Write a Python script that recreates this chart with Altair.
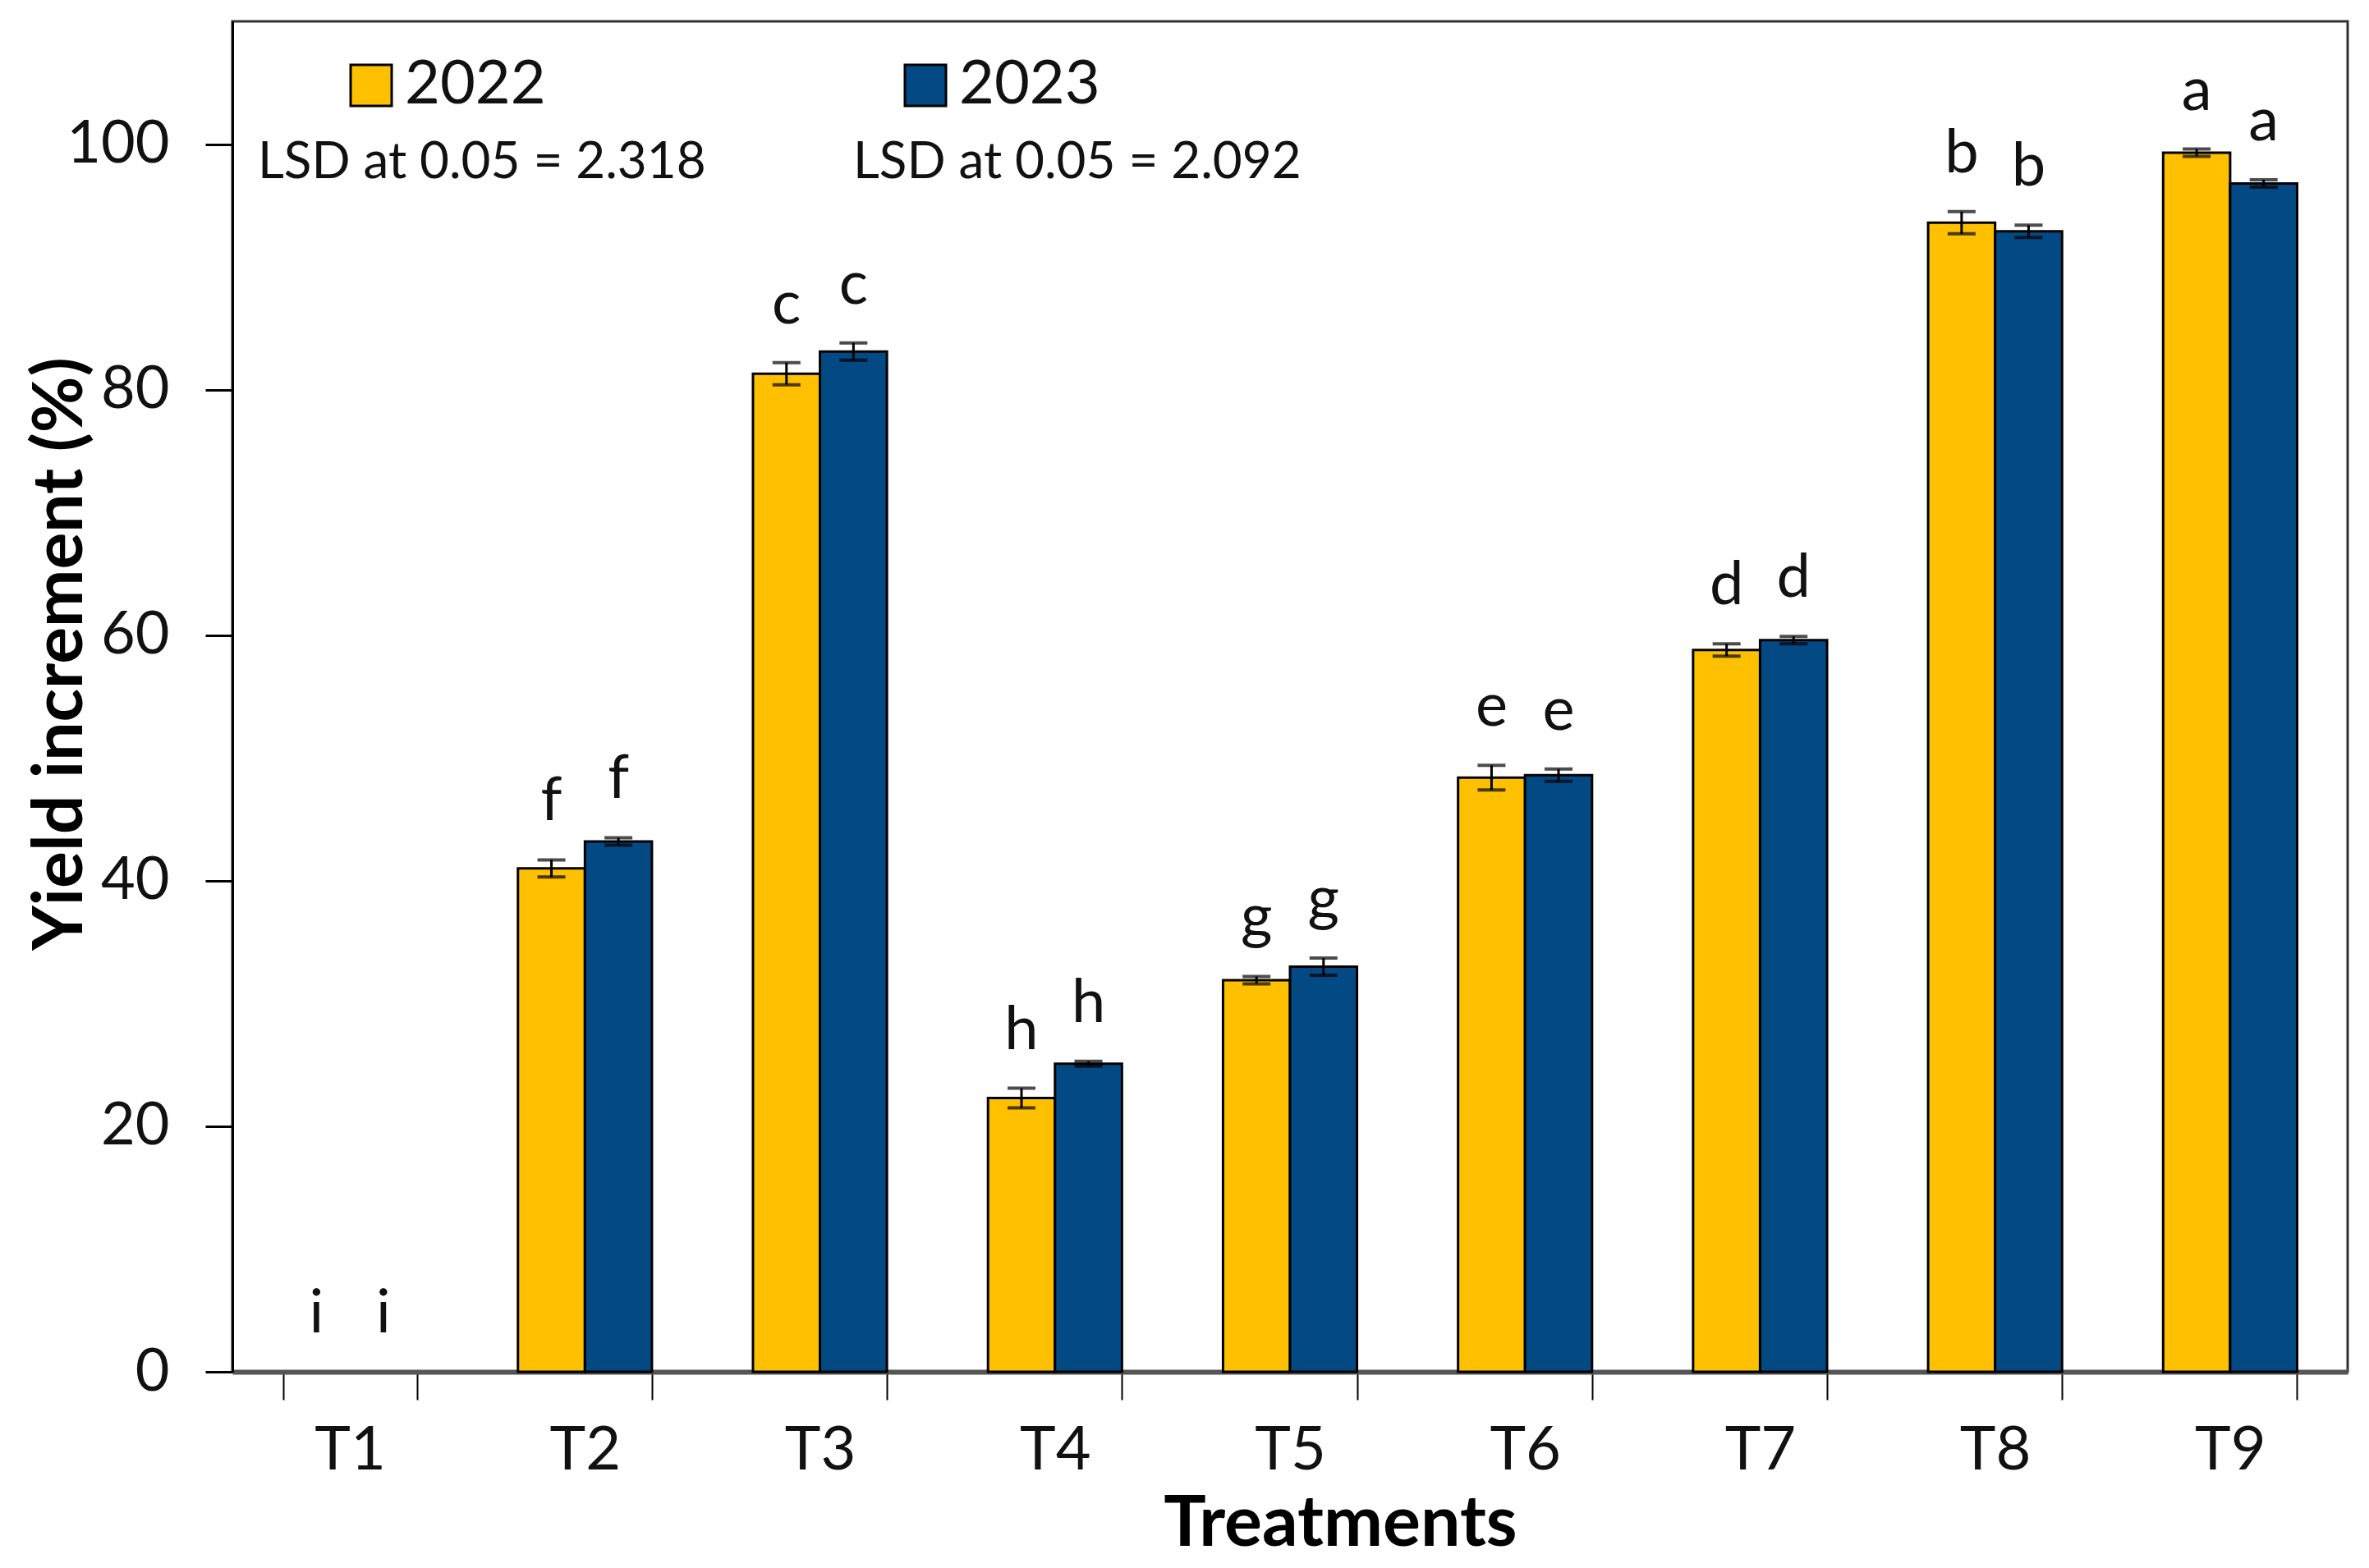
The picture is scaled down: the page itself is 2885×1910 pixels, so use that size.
import altair as alt
import pandas as pd

treatments = ["T1", "T2", "T3", "T4", "T5", "T6", "T7", "T8", "T9"]
years = ["2022", "2023"]
y2022 = [0, 41.0, 81.3, 22.3, 31.9, 48.4, 58.8, 93.6, 99.3]
y2023 = [0, 43.2, 83.1, 25.1, 33.0, 48.6, 59.6, 92.9, 96.8]
se2022 = [0, 0.7, 0.9, 0.8, 0.3, 1.0, 0.5, 0.9, 0.3]
se2023 = [0, 0.3, 0.7, 0.2, 0.7, 0.5, 0.3, 0.5, 0.3]
let2022 = ["i", "f", "c", "h", "g", "e", "d", "b", "a"]
let2023 = ["i", "f", "c", "h", "g", "e", "d", "b", "a"]
lsd_texts = ["LSD at 0.05 = 2.318", "LSD at 0.05 = 2.092"]
colors = ["#FFC000", "#034A85"]

rows = []
for yr, vals, ses, lets in [("2022", y2022, se2022, let2022), ("2023", y2023, se2023, let2023)]:
    for t, v, s, l in zip(treatments, vals, ses, lets):
        rows.append({"Treatment": t, "Year": yr, "value": v, "err": s,
                     "lo": v - s, "hi": v + s, "letter": l})
df = pd.DataFrame(rows)

FONT = "Lato"

x_enc = alt.X("Treatment:N", sort=treatments,
              scale=alt.Scale(paddingInner=0.43, paddingOuter=0.215),
              axis=alt.Axis(title="Treatments", labelAngle=0, tickBand="extent",
                            tickSize=34, tickWidth=2, tickColor="black",
                            labelPadding=26, labelFontSize=74, labelColor="#111",
                            titleFontSize=86, titleFontWeight="bold", titleColor="black",
                            titlePadding=10, titleX=1349,
                            domainWidth=6, domainColor="#555"))
xoff = alt.XOffset("Year:N", sort=years, scale=alt.Scale(paddingInner=0, paddingOuter=0))
y_scale = alt.Scale(domain=[0, 110], nice=False)

base = alt.Chart(df)

bars = base.transform_filter("datum.value > 0").mark_bar(
    stroke="black", strokeWidth=3, opacity=1
).encode(
    x=x_enc,
    xOffset=xoff,
    y=alt.Y("value:Q", scale=y_scale,
            axis=alt.Axis(title="Yield increment (%)", values=[0, 20, 40, 60, 80, 100],
                          grid=False, tickSize=33, tickWidth=3, tickColor="black",
                          domainColor="black", domainWidth=3,
                          labelFontSize=72, labelPadding=44, labelColor="#111",
                          titleFontSize=84, titleFontWeight="bold", titleColor="black",
                          titleX=-166, titleY=770)),
    color=alt.Color("Year:N", sort=years,
                    scale=alt.Scale(domain=years, range=colors),
                    legend=alt.Legend(orient="none", legendX=132, legendY=41,
                                      direction="horizontal", title=None,
                                      symbolType="square", symbolSize=2500,
                                      symbolStrokeColor="black", symbolStrokeWidth=3,
                                      symbolOpacity=1, labelLimit=0,
                                      labelFontSize=74, labelFont=FONT, labelColor="#111",
                                      labelOffset=4, columnPadding=425, padding=0)),
)

err_rule = base.transform_filter("datum.err > 0").mark_rule(
    color="black", strokeWidth=3
).encode(
    x=alt.X("Treatment:N", sort=treatments),
    xOffset=xoff,
    y=alt.Y("lo:Q", scale=y_scale),
    y2="hi:Q",
)

err_top = base.transform_filter("datum.err > 0").mark_tick(
    color="black", thickness=4, size=34, orient="horizontal"
).encode(
    x=alt.X("Treatment:N", sort=treatments),
    xOffset=xoff,
    y=alt.Y("hi:Q", scale=y_scale),
)
err_bot = base.transform_filter("datum.err > 0").mark_tick(
    color="black", thickness=4, size=34, orient="horizontal"
).encode(
    x=alt.X("Treatment:N", sort=treatments),
    xOffset=xoff,
    y=alt.Y("lo:Q", scale=y_scale),
)

letters = base.mark_text(
    fontSize=74, font=FONT, color="#111", baseline="alphabetic", align="center", dy=-48
).encode(
    x=alt.X("Treatment:N", sort=treatments),
    xOffset=xoff,
    y=alt.Y("hi:Q", scale=y_scale),
    text="letter:N",
)

lsd1 = alt.Chart(pd.DataFrame({"t": [lsd_texts[0]]})).mark_text(
    fontSize=62, font=FONT, color="#111", align="left", baseline="middle"
).encode(x=alt.value(31), y=alt.value(172), text="t:N")
lsd2 = alt.Chart(pd.DataFrame({"t": [lsd_texts[1]]})).mark_text(
    fontSize=62, font=FONT, color="#111", align="left", baseline="middle"
).encode(x=alt.value(756), y=alt.value(172), text="t:N")

chart = alt.layer(bars, err_rule, err_top, err_bot, letters, lsd1, lsd2).properties(
    width=2576, height=1645,
    padding={"left": 24, "top": 18, "right": 10, "bottom": 0},
).configure(font=FONT).configure_view(
    stroke="#333", strokeWidth=3
)

chart.save("out.html", embed_options={"renderer": "svg", "actions": False})
